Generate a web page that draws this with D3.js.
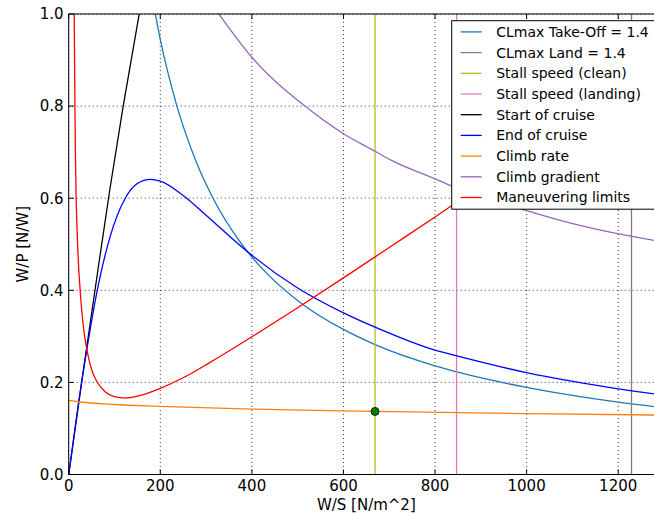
<!DOCTYPE html>
<html>
<head>
<meta charset="utf-8">
<script src="https://cdn.jsdelivr.net/npm/d3@7"></script>
<style>
  body { margin: 0; background: #fff; }
</style>
</head>
<body>
<svg width="654" height="519" font-family="DejaVu Sans"></svg>
<script>
// values, [W/S, W/P]
var takeOff = [[186, 1.016], [200, 0.945], [234, 0.808], [276, 0.685], [314, 0.602], [378, 0.5],
  [418, 0.452], [509, 0.371], [600, 0.315], [669, 0.282], [800, 0.236], [854, 0.221],
  [1000, 0.189], [1200, 0.157], [1300, 0.145]];
var startCruise = [[0, 0], [30, 0.212], [60, 0.418], [90, 0.62], [119, 0.8], [154, 1.0], [165, 1.06]];
var endCruise = [[0, 0], [10, 0.072], [21, 0.152], [40, 0.274], [60, 0.388], [90, 0.515],
  [124, 0.601], [150, 0.632], [178, 0.641], [200, 0.637], [250, 0.606], [300, 0.563],
  [378, 0.494], [400, 0.476], [500, 0.405], [600, 0.351], [669, 0.32], [800, 0.27],
  [854, 0.256], [1000, 0.221], [1200, 0.186], [1300, 0.172]];
var climbRate = [[0, 0.161], [21, 0.158], [100, 0.152], [200, 0.148], [400, 0.142], [669, 0.137],
  [1000, 0.132], [1300, 0.129]];
var climbGradient = [[320, 1.011], [328, 1.0], [400, 0.906], [516, 0.8], [600, 0.74], [669, 0.702],
  [705, 0.682], [800, 0.642], [833, 0.628], [1000, 0.573], [1073, 0.552], [1230, 0.517], [1300, 0.505]];
var maneuver = [[11.5, 1.05], [12.0, 1.0], [12.8, 0.9], [13.6, 0.8], [14.6, 0.7], [16, 0.61],
  [18.3, 0.53], [21, 0.465], [25, 0.4], [31, 0.33], [39, 0.275], [50, 0.228], [61, 0.203],
  [80, 0.179], [100, 0.169], [123, 0.166], [150, 0.17], [200, 0.187], [250, 0.21], [308, 0.243],
  [400, 0.299], [500, 0.362], [600, 0.427], [700, 0.493], [800, 0.559], [900, 0.627],
  [1000, 0.697], [1300, 0.91]];
var stallClean = 669;
var stallLanding = 847;
var landLimit = 1229;
var designPoint = [669, 0.137];

var legendNames = ["CLmax Take-Off = 1.4", "CLmax Land = 1.4", "Stall speed (clean)",
  "Stall speed (landing)", "Start of cruise", "End of cruise", "Climb rate",
  "Climb gradient", "Maneuvering limits"];
var legendColors = ["#1f77b4", "#7f7f7f", "#bcbd22", "#e377c2", "#000000", "#0000ff",
  "#ff7f0e", "#9467bd", "#ff0000"];

var xTicks = [0, 200, 400, 600, 800, 1000, 1200];
var yTicks = [0, 0.2, 0.4, 0.6, 0.8, 1.0];

var svg = d3.select("svg");
var pLeft = 68.7, pRight = 664, pTop = 14, pBottom = 474.5;

var x = d3.scaleLinear().domain([0, 1300]).range([pLeft, pRight]);
var y = d3.scaleLinear().domain([0, 1]).range([pBottom, pTop]);

svg.append("defs").append("clipPath").attr("id", "plot")
  .append("rect").attr("x", pLeft).attr("y", pTop)
  .attr("width", pRight - pLeft).attr("height", pBottom - pTop);

// grid (dotted)
var grid = svg.append("g");
grid.selectAll("line.gx").data(xTicks).enter().append("line")
  .attr("x1", d => x(d)).attr("x2", d => x(d)).attr("y1", pTop).attr("y2", pBottom)
  .attr("stroke", "#000").attr("stroke-width", 0.8).attr("stroke-dasharray", "1,3");
grid.selectAll("line.gy").data(yTicks).enter().append("line")
  .attr("x1", pLeft).attr("x2", pRight).attr("y1", d => y(d)).attr("y2", d => y(d))
  .attr("stroke", "#000").attr("stroke-width", 0.8).attr("stroke-dasharray", "1,3");

var plot = svg.append("g").attr("clip-path", "url(#plot)");
var line = d3.line().x(d => x(d[0])).y(d => y(d[1])).curve(d3.curveMonotoneX);

function curve(data, color) {
  plot.append("path").datum(data).attr("d", line)
    .attr("fill", "none").attr("stroke", color).attr("stroke-width", 1.3);
}
function vline(v, color) {
  plot.append("line").attr("x1", x(v)).attr("x2", x(v)).attr("y1", y(0)).attr("y2", y(1))
    .attr("stroke", color).attr("stroke-width", 1.3);
}

curve(takeOff, legendColors[0]);
vline(landLimit, legendColors[1]);
vline(stallClean, legendColors[2]);
vline(stallLanding, legendColors[3]);
curve(startCruise, legendColors[4]);
curve(endCruise, legendColors[5]);
curve(climbRate, legendColors[6]);
curve(climbGradient, legendColors[7]);
curve(maneuver, legendColors[8]);

plot.append("circle").attr("cx", x(designPoint[0])).attr("cy", y(designPoint[1])).attr("r", 4)
  .attr("fill", "#008000").attr("stroke", "#000").attr("stroke-width", 0.8);

// spines
svg.append("g").selectAll("line").data([
  [pLeft, pTop, pLeft, pBottom], [pLeft, pBottom, pRight, pBottom], [pLeft, pTop, pRight, pTop]
]).enter().append("line")
  .attr("x1", d => d[0]).attr("y1", d => d[1]).attr("x2", d => d[2]).attr("y2", d => d[3])
  .attr("stroke", "#000").attr("stroke-width", 1);

// inward ticks
var ticks = svg.append("g").attr("stroke", "#000").attr("stroke-width", 1);
xTicks.forEach(function(t) {
  ticks.append("line").attr("x1", x(t)).attr("x2", x(t)).attr("y1", pBottom).attr("y2", pBottom - 5);
  ticks.append("line").attr("x1", x(t)).attr("x2", x(t)).attr("y1", pTop).attr("y2", pTop + 5);
});
yTicks.forEach(function(t) {
  ticks.append("line").attr("x1", pLeft).attr("x2", pLeft + 5).attr("y1", y(t)).attr("y2", y(t));
});

// tick labels
svg.append("g").selectAll("text").data(xTicks).enter().append("text")
  .attr("x", d => x(d)).attr("y", 491).attr("text-anchor", "middle")
  .attr("font-size", 15).text(d => d);
svg.append("g").selectAll("text").data(yTicks).enter().append("text")
  .attr("x", 63.5).attr("y", d => y(d) + 5.3).attr("text-anchor", "end")
  .attr("font-size", 15).text(d => d3.format(".1f")(d));

svg.append("text").attr("x", (pLeft + pRight) / 2).attr("y", 509.5).attr("text-anchor", "middle")
  .attr("font-size", 15).text("W/S [N/m^2]");
svg.append("text").attr("transform", "translate(28," + ((pTop + pBottom) / 2) + ") rotate(-90)")
  .attr("text-anchor", "middle").attr("font-size", 15).text("W/P [N/W]");

// legend
var lg = svg.append("g").attr("transform", "translate(451.7,20.7)");
lg.append("rect").attr("width", 215).attr("height", 188.5)
  .attr("fill", "#fff").attr("stroke", "#000").attr("stroke-width", 1);
legendNames.forEach(function(name, i) {
  var yy = 11.2 + i * 20.7;
  lg.append("line").attr("x1", 9).attr("x2", 30).attr("y1", yy).attr("y2", yy)
    .attr("stroke", legendColors[i]).attr("stroke-width", 1.3);
  lg.append("text").attr("x", 44.5).attr("y", yy + 5).attr("font-size", 14).text(name);
});
</script>
</body>
</html>
